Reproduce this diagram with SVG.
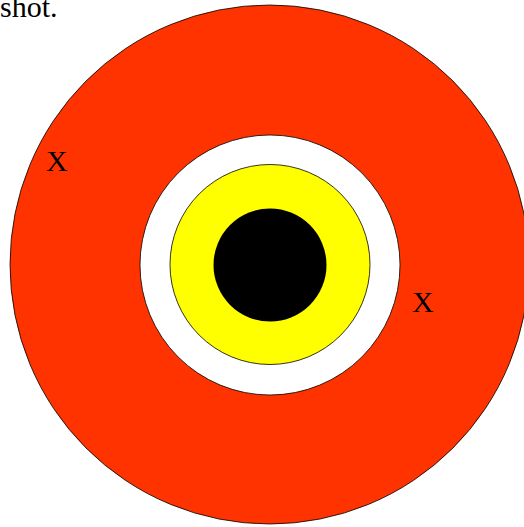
<svg xmlns="http://www.w3.org/2000/svg" width="524" height="527" viewBox="0 0 524 527">
<style>
.ring{stroke:#000;stroke-width:0.8}
.lbl{font-family:"Liberation Serif","Times New Roman",serif;font-size:30px;fill:#000}
</style>
<rect width="524" height="527" fill="#fff"/>
<text class="lbl" x="0" y="17">shot.</text>
<g id="target">
<circle class="ring" cx="269.5" cy="264.5" r="259.5" fill="#ff3300"/>
<circle class="ring" cx="270" cy="265" r="130" fill="#ffffff"/>
<circle class="ring" cx="270" cy="264.5" r="100" fill="#ffff00"/>
<circle cx="270" cy="265" r="56.5" fill="#000000"/>
</g>
<g id="marks">
<text class="lbl" x="46" y="171">X</text>
<text class="lbl" x="412" y="312">X</text>
</g>
</svg>
